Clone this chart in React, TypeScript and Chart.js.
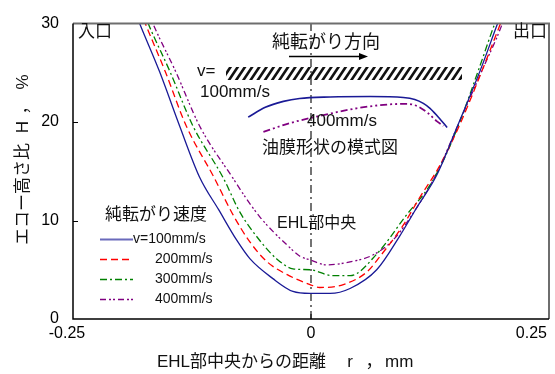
import React, { useEffect, useRef } from "react";
import { Chart, registerables } from "chart.js";

Chart.register(...registerables);

// ---- data (r in mm, H in %) ----
const SERIES_LABELS = ["v=100mm/s", "200mm/s", "300mm/s", "400mm/s"];
const SERIES_COLORS = ["#1a1a96", "#ff0000", "#008000", "#800080"];

const R100 = [-0.186, -0.180, -0.159, -0.138, -0.117, -0.097, -0.078, -0.064, -0.040, -0.019, -0.001, 0.020, 0.041, 0.069, 0.093, 0.111, 0.132, 0.153, 0.178, 0.196, 0.202];
const H100 = [31.5, 30.0, 25.1, 19.6, 14.4, 11.1, 8.0, 6.1, 4.1, 2.8, 2.6, 2.6, 3.1, 5.0, 8.4, 11.3, 14.6, 19.4, 25.3, 30.0, 31.5];

const R200 = [-0.180, -0.174, -0.153, -0.131, -0.102, -0.082, -0.064, -0.046, -0.025, -0.001, 0.009, 0.034, 0.059, 0.072, 0.096, 0.114, 0.136, 0.157, 0.180, 0.199, 0.205];
const H200 = [31.5, 30.0, 25.1, 19.6, 14.4, 10.6, 7.8, 5.8, 4.5, 3.5, 3.2, 3.5, 4.8, 6.3, 9.4, 12.3, 15.7, 19.9, 25.3, 30.0, 31.5];

const R300 = [-0.177, -0.171, -0.148, -0.124, -0.092, -0.075, -0.054, -0.036, -0.019, -0.001, 0.023, 0.041, 0.070, 0.099, 0.125, 0.141, 0.157, 0.176, 0.193, 0.199];
const H300 = [31.5, 30.0, 25.1, 19.6, 14.3, 10.9, 8.0, 6.1, 5.1, 5.0, 4.4, 4.4, 6.7, 10.4, 13.6, 16.5, 20.2, 25.3, 30.0, 31.5];

const R400 = [-0.172, -0.166, -0.142, -0.117, -0.082, -0.067, -0.054, -0.040, -0.025, -0.012, -0.001, 0.017, 0.041, 0.065, 0.086, 0.107, 0.131, 0.154, 0.179, 0.201, 0.206];
const H400 = [31.5, 30.0, 25.1, 19.6, 14.3, 12.1, 10.4, 8.9, 7.5, 6.4, 6.0, 5.5, 5.8, 6.5, 8.0, 10.7, 14.6, 19.6, 25.1, 30.0, 31.5];

// schematic oil-film shapes (inset sketch)
const SKETCH_R100 = [-0.066, -0.048, -0.029, -0.012, 0.020, 0.062, 0.097, 0.109, 0.118, 0.125, 0.132, 0.143];
const SKETCH_H100 = [20.5, 21.5, 22.1, 22.4, 22.55, 22.6, 22.5, 22.3, 21.9, 21.4, 20.7, 19.45];
const SKETCH_R400 = [-0.050, -0.022, 0.013, 0.048, 0.083, 0.101, 0.112, 0.123, 0.132, 0.139];
const SKETCH_H400 = [19.0, 19.9, 20.7, 21.4, 21.8, 21.85, 21.6, 20.9, 20.1, 19.6];

const CENTER_R = [0, 0];
const CENTER_H = [0, 30];

const X_TICKS = [-0.25, 0, 0.25];
const X_TICK_LABELS = ["-0.25", "0", "0.25"];
const Y_TICKS = [0, 10, 20, 30];

const JP = '"Noto Sans CJK JP"';
const MIX = '"Liberation Sans", "Noto Sans CJK JP"';
const LAT = '"Liberation Sans", Arial';

const pts = (xs: number[], ys: number[]) => xs.map((x, i) => ({ x, y: ys[i] }));

const DASHES = [[], [7, 4], [7, 3, 2, 3], [6, 3, 2, 2, 2, 3]];

const decorPlugin = {
  id: "decor",
  afterDraw(chart: any) {
    const { ctx, chartArea: ca, scales } = chart;
    const xs = scales.x;
    const ys = scales.y;
    ctx.save();

    // frame
    ctx.lineCap = "butt";
    ctx.strokeStyle = "#6e6e6e";
    ctx.lineWidth = 2;
    ctx.beginPath();
    ctx.moveTo(ca.left, ca.top);
    ctx.lineTo(ca.right, ca.top);
    ctx.lineTo(ca.right, ca.bottom);
    ctx.stroke();
    ctx.strokeStyle = "#000";
    ctx.lineWidth = 1.5;
    ctx.beginPath();
    ctx.moveTo(ca.left, ca.top);
    ctx.lineTo(ca.left, ca.bottom);
    ctx.lineTo(ca.right, ca.bottom);
    ctx.stroke();

    // inward ticks
    ctx.lineWidth = 1;
    Y_TICKS.forEach((v) => {
      if (v <= ys.min || v >= ys.max) return;
      const py = Math.round(ys.getPixelForValue(v)) + 0.5;
      ctx.beginPath();
      ctx.moveTo(ca.left, py);
      ctx.lineTo(ca.left + 5, py);
      ctx.stroke();
    });
    X_TICKS.forEach((v) => {
      if (v <= xs.min || v >= xs.max) return;
      const px = xs.getPixelForValue(v);
      ctx.beginPath();
      ctx.moveTo(px, ca.bottom);
      ctx.lineTo(px, ca.bottom - 5);
      ctx.stroke();
    });

    // x tick labels
    ctx.fillStyle = "#000";
    ctx.font = `16px ${LAT}`;
    ctx.textBaseline = "middle";
    X_TICKS.forEach((v, i) => {
      const px = xs.getPixelForValue(v);
      if (i === 0) {
        ctx.textAlign = "center";
        ctx.fillText(X_TICK_LABELS[i], px - 6, ca.bottom + 15);
      } else if (i === X_TICKS.length - 1) {
        ctx.textAlign = "right";
        ctx.fillText(X_TICK_LABELS[i], px - 2, ca.bottom + 15);
      } else {
        ctx.textAlign = "center";
        ctx.fillText(X_TICK_LABELS[i], px, ca.bottom + 15);
      }
    });

    // axis titles
    ctx.fillStyle = "#111";
    ctx.textAlign = "left";
    ctx.font = `17px ${MIX}`;
    ctx.fillText("EHL部中央からの距離", 157, 362);
    ctx.textAlign = "center";
    ctx.fillText("r", 350, 362);
    ctx.fillText("，", 374, 362);
    ctx.textAlign = "left";
    ctx.fillText("mm", 385, 362);

    ctx.save();
    ctx.translate(23, 0);
    ctx.rotate(-Math.PI / 2);
    ctx.font = `17px ${MIX}`;
    ctx.textAlign = "left";
    ctx.fillText("エコー高さ比", -245, 0);
    ctx.textAlign = "center";
    ctx.fillText("H", -127, 0);
    ctx.fillText("，", -106, 0);
    ctx.fillText("%", -82, 0);
    ctx.restore();

    // annotations
    ctx.font = `17px ${JP}`;
    ctx.textAlign = "left";
    ctx.fillText("入口", 78, 31);
    ctx.fillText("出口", 513, 31);
    ctx.font = `18px ${JP}`;
    ctx.fillText("純転がり方向", 272, 41);

    // arrow
    ctx.strokeStyle = "#000";
    ctx.lineWidth = 1.5;
    ctx.beginPath();
    ctx.moveTo(289, 56.5);
    ctx.lineTo(362, 56.5);
    ctx.stroke();
    ctx.fillStyle = "#000";
    ctx.beginPath();
    ctx.moveTo(368, 56.5);
    ctx.lineTo(359, 53);
    ctx.lineTo(359, 60);
    ctx.closePath();
    ctx.fill();

    // hatched bar
    ctx.save();
    ctx.beginPath();
    ctx.rect(226, 67, 236, 13);
    ctx.clip();
    ctx.lineWidth = 2.6;
    ctx.strokeStyle = "#111";
    for (let x = 214; x < 475; x += 7.2) {
      ctx.beginPath();
      ctx.moveTo(x, 81);
      ctx.lineTo(x + 10, 66);
      ctx.stroke();
    }
    ctx.restore();

    ctx.fillStyle = "#111";
    ctx.font = `17px ${LAT}`;
    ctx.textAlign = "left";
    ctx.fillText("v=", 197, 71);
    ctx.fillText("100mm/s", 200, 92);
    ctx.fillText("400mm/s", 307, 121);
    ctx.font = `17px ${JP}`;
    ctx.fillText("油膜形状の模式図", 262, 147);
    ctx.font = `16px ${MIX}`;
    ctx.fillText("EHL部中央", 277, 224);

    // legend
    ctx.font = `17px ${JP}`;
    ctx.fillText("純転がり速度", 105, 214);
    const rows = [239, 259, 279, 299];
    chart.data.datasets.slice(0, 4).forEach((ds: any, i: number) => {
      const y = rows[i] + 0.5;
      ctx.strokeStyle = ds.borderColor;
      ctx.lineWidth = i === 0 ? 2 : 1.3;
      ctx.globalAlpha = i === 0 ? 0.65 : 1;
      ctx.setLineDash(ds.borderDash || []);
      ctx.beginPath();
      ctx.moveTo(100, y);
      ctx.lineTo(133, y);
      ctx.stroke();
      ctx.globalAlpha = 1;
      ctx.setLineDash([]);
      ctx.fillStyle = "#111";
      ctx.font = `14px ${LAT}`;
      ctx.textAlign = "left";
      ctx.fillText(ds.label, i === 0 ? 133 : 155, rows[i]);
    });

    ctx.restore();
  },
};

export default function App() {
  const ref = useRef<HTMLCanvasElement | null>(null);

  useEffect(() => {
    if (!ref.current) return;
    const seriesR = [R100, R200, R300, R400];
    const seriesH = [H100, H200, H300, H400];
    const datasets: any[] = SERIES_LABELS.map((label, i) => ({
      label,
      data: pts(seriesR[i], seriesH[i]),
      borderColor: SERIES_COLORS[i],
      borderDash: DASHES[i],
      borderWidth: 1.3,
      pointRadius: 0,
      fill: false,
      cubicInterpolationMode: "monotone",
    }));
    datasets.push({
      label: "sketch100",
      data: pts(SKETCH_R100, SKETCH_H100),
      borderColor: "#1a1a96",
      borderWidth: 1.6,
      pointRadius: 0,
      fill: false,
      cubicInterpolationMode: "monotone",
    });
    datasets.push({
      label: "sketch400",
      data: pts(SKETCH_R400, SKETCH_H400),
      borderColor: "#800080",
      borderDash: [7, 3, 2, 3, 2, 3],
      borderWidth: 1.8,
      pointRadius: 0,
      fill: false,
      cubicInterpolationMode: "monotone",
    });
    datasets.push({
      label: "center",
      data: pts(CENTER_R, CENTER_H),
      borderColor: "#444",
      borderDash: [8, 4, 2, 4],
      borderWidth: 1.5,
      pointRadius: 0,
      fill: false,
    });

    const chart = new Chart(ref.current, {
      type: "line",
      data: { datasets },
      options: {
        responsive: false,
        animation: false,
        devicePixelRatio: 1,
        layout: { padding: { top: 12, right: 6, left: 0, bottom: 0 } },
        plugins: { legend: { display: false }, tooltip: { enabled: false } },
        scales: {
          x: {
            type: "linear",
            min: -0.25,
            max: 0.25,
            grid: { display: false, drawTicks: false },
            border: { display: false },
            ticks: { display: false },
            afterBuildTicks: (s: any) => {
              s.ticks = X_TICKS.map((v) => ({ value: v }));
            },
            afterFit: (s: any) => {
              s.height = 55;
              s.paddingLeft = 0;
              s.paddingRight = 0;
            },
          },
          y: {
            type: "linear",
            min: 0,
            max: 30,
            grid: { display: false, drawTicks: false },
            border: { display: false },
            afterBuildTicks: (s: any) => {
              s.ticks = Y_TICKS.map((v) => ({ value: v }));
            },
            ticks: {
              color: "#000",
              font: { family: "Liberation Sans, Arial", size: 16 },
              padding: 14,
            },
            afterFit: (s: any) => {
              s.width = 73;
            },
          },
        },
      },
      plugins: [decorPlugin],
    });
    return () => chart.destroy();
  }, []);

  return (
    <div style={{ position: "absolute", left: 0, top: 0, width: 555, height: 374, background: "#fff" }}>
      <canvas ref={ref} width={555} height={374} />
    </div>
  );
}
